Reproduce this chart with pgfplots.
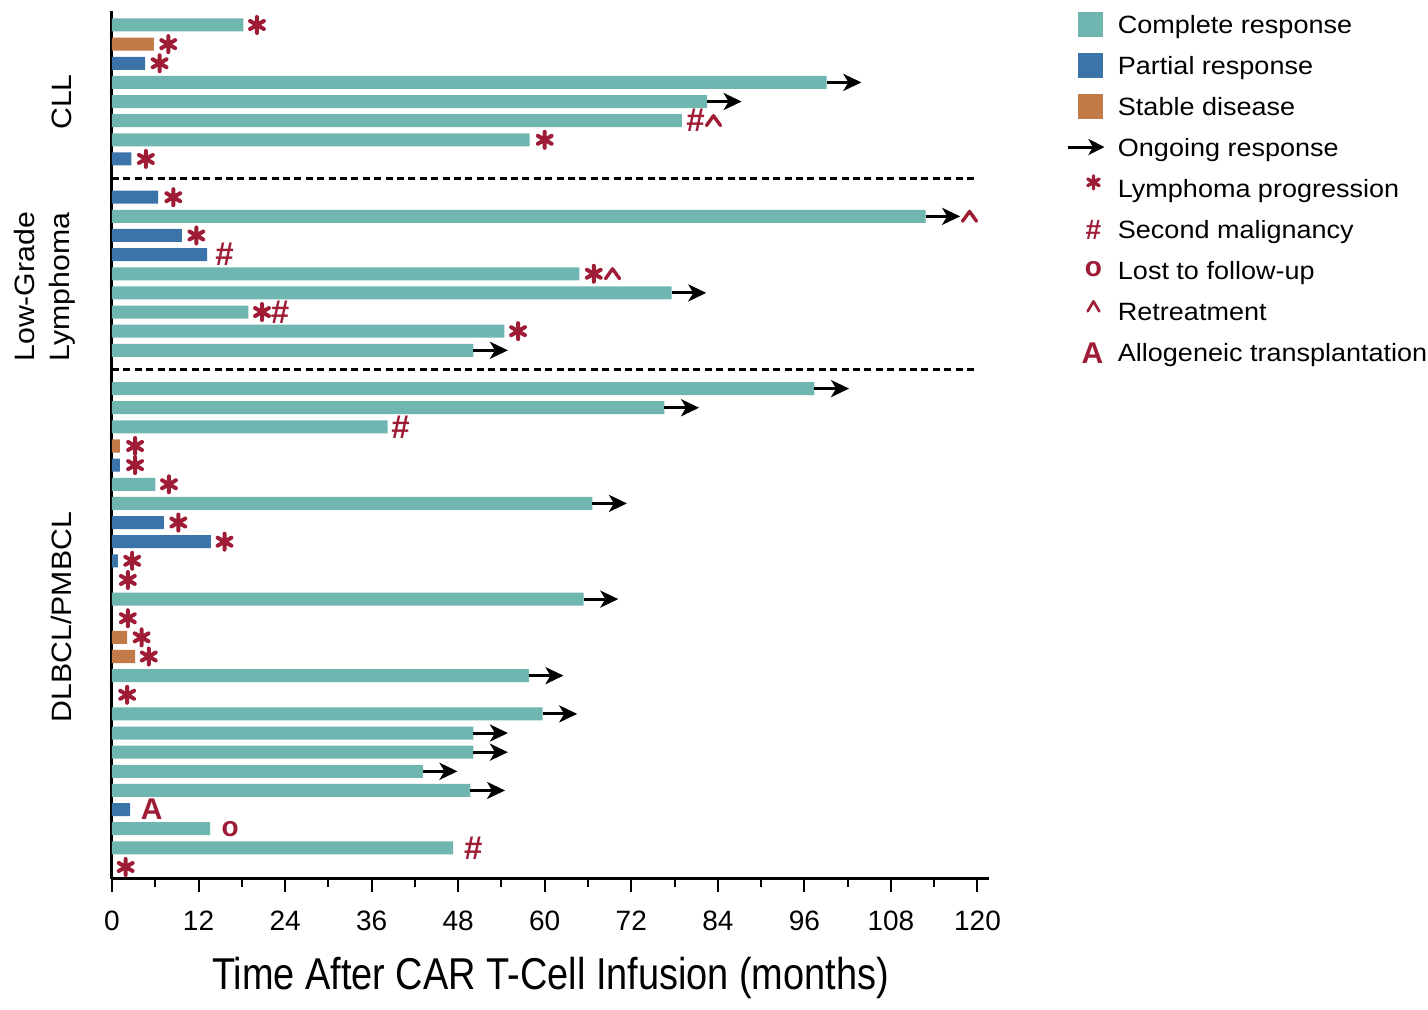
\documentclass[border=0pt]{standalone}
\usepackage{fontspec}
\setmainfont{Liberation Sans}
\newfontfamily\widesans[FakeStretch=1.08]{Liberation Sans}
\newfontfamily\narrowsans[FakeStretch=0.85]{Liberation Sans}
\usepackage{pgfplots}
\pgfplotsset{compat=1.18}
\usetikzlibrary{arrows.meta}
\definecolor{cr}{HTML}{6FB6B1}
\definecolor{pr}{HTML}{3A74A8}
\definecolor{sd}{HTML}{C27B48}
\definecolor{mred}{HTML}{9E1C36}
\pgfdeclareplotmark{caret}{%
  \pgfpathmoveto{\pgfqpoint{-\pgfplotmarksize}{-0.7\pgfplotmarksize}}%
  \pgfpathlineto{\pgfqpoint{0pt}{0.7\pgfplotmarksize}}%
  \pgfpathlineto{\pgfqpoint{\pgfplotmarksize}{-0.7\pgfplotmarksize}}%
  \pgfusepathqstroke}
\begin{document}
\begin{tikzpicture}
\path[use as bounding box] (-56pt,-65.5pt) rectangle (658pt,439.5pt);
\begin{axis}[
  at={(0pt,0pt)}, anchor=south west,
  scale only axis, width=438.5pt, height=434pt,
  xmin=0, xmax=121.6, ymin=-45.627, ymax=-0.268,
  axis lines=left,
  axis line style={-, line width=1.5pt, black},
  xtick={0,12,...,120},
  minor xtick={6,18,...,114},
  ytick=\empty,
  tick align=outside,
  major tick length=6.5pt, minor tick length=4pt,
  tick style={line width=1pt, black},
  tick label style={font=\fontsize{14}{14}\selectfont},
  xticklabel style={yshift=-6pt},
  /pgf/number format/assume math mode=true,
  xlabel={Time After CAR T-Cell Infusion (months)},
  x label style={at={(axis description cs:0.5,0)}, anchor=base, yshift=-55pt, inner sep=0pt,
    font=\narrowsans\fontsize{22.3}{24}\selectfont},
  clip=false,
  legend cell align=left,
  legend style={at={(axis description cs:1.0889,1.0011)}, anchor=north west,
    draw=none, fill=none, inner sep=0pt, outer sep=0pt,
    row sep=6.5pt, column sep=6pt,
    font=\widesans\fontsize{12.5}{12.5}\selectfont,
    nodes={inner sep=0pt, text height=11.5pt, text depth=2.5pt}},
]
% bars
\addplot[xbar, bar width=0.68, bar shift=0pt, fill=cr, draw=none, forget plot] coordinates {
 (18.2,-1) (99.1,-4) (82.5,-5) (79.0,-6) (57.9,-7)
 (112.8,-11) (64.8,-14) (77.6,-15) (18.9,-16) (54.4,-17) (50.1,-18)
 (97.4,-20) (76.6,-21) (38.2,-22) (6.0,-25) (66.6,-26) (65.4,-31) (57.8,-35)
 (59.7,-37) (50.1,-38) (50.1,-39) (43.1,-40) (49.7,-41) (13.6,-43) (47.3,-44)};
\addplot[xbar, bar width=0.68, bar shift=0pt, fill=pr, draw=none, forget plot] coordinates {
 (4.6,-3) (2.7,-8) (6.4,-10) (9.7,-12) (13.2,-13)
 (1.1,-24) (7.2,-27) (13.7,-28) (0.8,-29) (2.5,-42)};
\addplot[xbar, bar width=0.68, bar shift=0pt, fill=sd, draw=none, forget plot] coordinates {
 (5.8,-2) (1.1,-23) (2.1,-33) (3.2,-34)};
% group separators
\addplot[black, line width=1.5pt, dash pattern=on 3.5pt off 2.2pt, forget plot] coordinates {(0,-9) (119.5,-9)};
\addplot[black, line width=1.5pt, dash pattern=on 3.5pt off 2.2pt, forget plot] coordinates {(0,-19) (119.5,-19)};
% ongoing response arrows
\addplot[black, line width=1.5pt, -{Stealth[length=9pt,width=8.5pt,inset=2.5pt]},
  quiver={u=4.8,v=0}, forget plot] coordinates {
 (99.1,-4) (82.5,-5) (112.8,-11) (77.6,-15) (50.1,-18) (97.4,-20) (76.6,-21)
 (66.6,-26) (65.4,-31) (57.8,-35) (59.7,-37) (50.1,-38) (50.1,-39) (43.1,-40) (49.7,-41)};
% lymphoma progression
\addplot[mred, only marks, mark=asterisk, mark size=4pt, mark options={line width=2pt, line cap=round}, forget plot] coordinates {
 (20.1,-1) (7.8,-2) (6.6,-3) (60.0,-7) (4.7,-8) (8.5,-10) (11.7,-12) (66.8,-14)
 (20.8,-16) (56.3,-17) (3.2,-23) (3.2,-24) (7.9,-25) (9.2,-27) (15.6,-28) (2.8,-29)
 (2.2,-30) (2.2,-32) (4.1,-33) (5.1,-34) (2.1,-36) (1.9,-45)};
% second malignancy
\addplot[mred, only marks, mark=text, text mark={\#}, text mark as node=true,
  text mark style={font=\bfseries\fontsize{16.5}{16.5}\selectfont, inner sep=0pt, anchor=center}, forget plot] coordinates {
 (80.9,-6) (15.6,-13) (23.3,-16) (40.0,-22) (50.1,-44)};
% retreatment
\addplot[mred, only marks, mark=caret, mark size=3.5pt, mark options={line width=1.7pt, line join=round, line cap=round}, forget plot] coordinates {
 (83.4,-6) (118.9,-11) (69.4,-14)};
% lost to follow-up
\addplot[mred, only marks, mark=text, text mark={o}, text mark as node=true,
  text mark style={font=\bfseries\fontsize{14}{14}\selectfont, inner sep=0pt, anchor=center}, forget plot] coordinates {
 (16.4,-43)};
% allogeneic transplantation
\addplot[mred, only marks, mark=text, text mark={A}, text mark as node=true,
  text mark style={font=\bfseries\fontsize{15}{15}\selectfont, inner sep=0pt, anchor=center}, forget plot] coordinates {
 (5.5,-42)};
% legend
\addlegendimage{legend image code/.code={\path[draw=none,fill=none] (0pt,-0.1pt) rectangle (18pt,0.1pt); \path[draw=none,fill=cr] (5pt,-6.25pt) rectangle (17.5pt,6.25pt);}}
\addlegendentry{Complete response}
\addlegendimage{legend image code/.code={\path[draw=none,fill=none] (0pt,-0.1pt) rectangle (18pt,0.1pt); \path[draw=none,fill=pr] (5pt,-6.25pt) rectangle (17.5pt,6.25pt);}}
\addlegendentry{Partial response}
\addlegendimage{legend image code/.code={\path[draw=none,fill=none] (0pt,-0.1pt) rectangle (18pt,0.1pt); \path[draw=none,fill=sd] (5pt,-6.25pt) rectangle (17.5pt,6.25pt);}}
\addlegendentry{Stable disease}
\addlegendimage{legend image code/.code={\draw[black, line width=1.5pt, -{Stealth[length=8pt,width=8pt,inset=2.2pt]}] (0pt,0pt) -- (18pt,0pt);}}
\addlegendentry{Ongoing response}
\addlegendimage{legend image code/.code={\path[draw=none,fill=none] (0pt,-0.1pt) rectangle (18pt,0.1pt);
  \draw[mred, line width=1.7pt, line cap=round] (12.5pt,-0.3pt) -- (12.5pt,6.3pt) (9.64pt,1.35pt) -- (15.36pt,4.65pt) (9.64pt,4.65pt) -- (15.36pt,1.35pt);}}
\addlegendentry{Lymphoma progression}
\addlegendimage{legend image code/.code={\path[draw=none,fill=none] (0pt,-0.1pt) rectangle (18pt,0.1pt);
  \node[mred, draw=none, inner sep=0pt, text height=0pt, text depth=0pt, anchor=base, font=\bfseries\fontsize{14}{14}\selectfont] at (12.5pt,-5.3pt) {\#};}}
\addlegendentry{Second malignancy}
\addlegendimage{legend image code/.code={\path[draw=none,fill=none] (0pt,-0.1pt) rectangle (18pt,0.1pt);
  \node[mred, draw=none, inner sep=0pt, text height=0pt, text depth=0pt, anchor=base, font=\bfseries\fontsize{14}{14}\selectfont] at (12.5pt,-3.3pt) {o};}}
\addlegendentry{Lost to follow-up}
\addlegendimage{legend image code/.code={\path[draw=none,fill=none] (0pt,-0.1pt) rectangle (18pt,0.1pt);
  \draw[mred, line width=1.3pt, line join=round, line cap=round] (9.6pt,0pt) -- (12.5pt,5pt) -- (15.4pt,0pt);}}
\addlegendentry{Retreatment}
\addlegendimage{legend image code/.code={\path[draw=none,fill=none] (0pt,-0.1pt) rectangle (18pt,0.1pt);
  \node[mred, draw=none, inner sep=0pt, text height=0pt, text depth=0pt, anchor=base, font=\bfseries\fontsize{15}{15}\selectfont] at (12pt,-5.4pt) {A};}}
\addlegendentry{Allogeneic transplantation}
% group labels
\node[rotate=90, anchor=base, inner sep=0pt, font=\widesans\fontsize{14}{14}\selectfont] at (axis cs:-5.55,-5.02) {CLL};
\node[rotate=90, anchor=base, inner sep=0pt, font=\widesans\fontsize{14}{14}\selectfont] at (axis cs:-10.68,-14.68) {Low-Grade};
\node[rotate=90, anchor=base, inner sep=0pt, font=\widesans\fontsize{14}{14}\selectfont] at (axis cs:-5.96,-14.68) {Lymphoma};
\node[rotate=90, anchor=base, inner sep=0pt, font=\widesans\fontsize{14}{14}\selectfont] at (axis cs:-5.55,-31.94) {DLBCL/PMBCL};
\end{axis}
\end{tikzpicture}
\end{document}
